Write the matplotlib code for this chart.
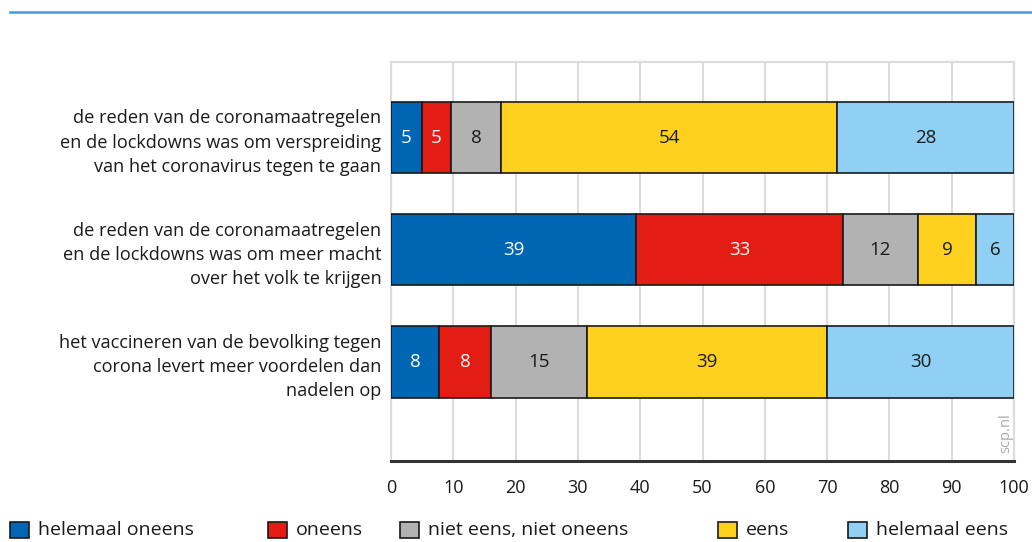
import matplotlib.pyplot as plt
from matplotlib.patches import Rectangle
from matplotlib.lines import Line2D

plt.rcParams['font.family'] = ['Open Sans', 'DejaVu Sans']
plt.rcParams['font.size'] = 13

# statements (top to bottom)
statements = [
    "de reden van de coronamaatregelen\nen de lockdowns was om verspreiding\nvan het coronavirus tegen te gaan",
    "de reden van de coronamaatregelen\nen de lockdowns was om meer macht\nover het volk te krijgen",
    "het vaccineren van de bevolking tegen\ncorona levert meer voordelen dan\nnadelen op",
]
answers = ["helemaal oneens", "oneens", "niet eens, niet oneens", "eens", "helemaal eens"]
colors = ["#0066b3", "#e31d13", "#b2b2b2", "#ffd11f", "#8fd0f4"]
text_colors = ["white", "white", "#1a1a1a", "#1a1a1a", "#1a1a1a"]

# percentages per answer, one value per statement
helemaal_oneens = [4.9, 39.4, 7.7]
oneens = [4.7, 33.1, 8.4]
neutraal = [8.1, 12.1, 15.3]
eens = [53.9, 9.3, 38.6]
helemaal_eens = [28.4, 6.1, 30.0]
series = [helemaal_oneens, oneens, neutraal, eens, helemaal_eens]

xticks = [0, 10, 20, 30, 40, 50, 60, 70, 80, 90, 100]

fig = plt.figure(figsize=(10.32, 5.42), dpi=100)
ax = fig.add_axes([391/1032, 1-461/542, (1014-391)/1032, (461-62)/542])

ypos = list(range(len(statements)))
left = [0.0] * len(statements)
for vals, col, tcol in zip(series, colors, text_colors):
    bars = ax.barh(ypos, vals, left=left, height=0.633, color=col,
                   edgecolor='#1a1a1a', linewidth=1.2, zorder=3)
    for b, v in zip(bars, vals):
        ax.text(b.get_x() + b.get_width()/2, b.get_y() + b.get_height()/2,
                '%d' % round(v), ha='center', va='center', color=tcol,
                fontsize=13.5, zorder=4)
    left = [l + v for l, v in zip(left, vals)]

ax.set_xlim(0, 100)
ax.set_ylim(2.882, -0.673)
ax.set_xticks(xticks)
ax.set_xticklabels([str(t) for t in xticks], fontsize=13)
ax.set_yticks(ypos)
ax.set_yticklabels(statements, fontsize=13.1, color='#1a1a1a', linespacing=1.45)
ax.tick_params(axis='both', length=0, colors='#1a1a1a')
ax.tick_params(axis='x', pad=13)
ax.tick_params(axis='y', pad=7)
ax.xaxis.grid(True, color='#dcdcdc', linewidth=1.5, zorder=0)
ax.set_axisbelow(True)
for s in ['left', 'top', 'right']:
    ax.spines[s].set_color('#dcdcdc')
    ax.spines[s].set_linewidth(1.5)
ax.spines['bottom'].set_color('#333333')
ax.spines['bottom'].set_linewidth(2.2)

ax.text(0.986, 0.02, 'scp.nl', transform=ax.transAxes, rotation=90,
        ha='center', va='bottom', color='#aaaaaa', fontsize=10.5)

# blue rule at the top
fig.add_artist(Line2D([10/1032, 1], [1-12/542, 1-12/542], color='#3d9de0', linewidth=1.8))

# legend
leg_x = [10, 268, 400, 718, 848]
for x, lab, col in zip(leg_x, answers, colors):
    fig.add_artist(Rectangle((x/1032, 1-538/542), 19/1032, 16/542, facecolor=col,
                             edgecolor='#1a1a1a', linewidth=1.2))
    fig.text((x+28)/1032, 1-530/542, lab, ha='left', va='center',
             color='#1a1a1a', fontsize=14)

plt.savefig('out.png', dpi=100)
plt.close()
